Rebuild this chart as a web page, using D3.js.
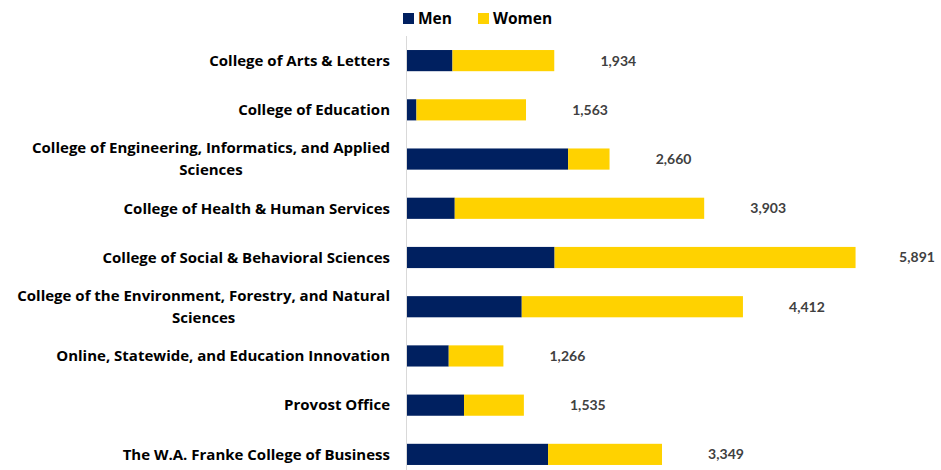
<!DOCTYPE html>
<html><head><meta charset="utf-8">
<script src="https://cdn.jsdelivr.net/npm/d3@7"></script>
<style>html,body{margin:0;padding:0;background:#fff;}svg{display:block;}</style>
</head><body>
<svg id="chart" width="941" height="470"></svg>
<script>
const categories = [
  "College of Arts & Letters",
  "College of Education",
  "College of Engineering, Informatics, and Applied Sciences",
  "College of Health & Human Services",
  "College of Social & Behavioral Sciences",
  "College of the Environment, Forestry, and Natural Sciences",
  "Online, Statewide, and Education Innovation",
  "Provost Office",
  "The W.A. Franke College of Business"
];
const categoryLines = [
  ["College of Arts & Letters"],
  ["College of Education"],
  ["College of Engineering, Informatics, and Applied", "Sciences"],
  ["College of Health & Human Services"],
  ["College of Social & Behavioral Sciences"],
  ["College of the Environment, Forestry, and Natural", "Sciences"],
  ["Online, Statewide, and Education Innovation"],
  ["Provost Office"],
  ["The W.A. Franke College of Business"]
];
const seriesNames = ["Men", "Women"];
const men   = [597, 124, 2116, 627, 1938, 1507, 548, 749, 1853];
const women = [1337, 1439, 544, 3276, 3953, 2905, 718, 786, 1496];

const colors = {Men: "#002060", Women: "#FFD200"};
const labelFont = "'Open Sans', Lato, sans-serif";
const valueFont = "Lato, 'Open Sans', sans-serif";

const W = 941;
const svg = d3.select("#chart");
const rows = categories.map((c, i) => ({cat: c, lines: categoryLines[i], Men: men[i], Women: women[i], total: men[i] + women[i]}));

const x = d3.scaleLinear().domain([0, 7000]).range([407, 940]);
const y = d3.scaleBand().domain(categories).range([36, 479]).paddingInner(0.57).paddingOuter(0.285);

const stack = d3.stack().keys(seriesNames)(rows);

// axis line
svg.append("line").attr("x1", x(0) - 0.5).attr("x2", x(0) - 0.5)
  .attr("y1", 36).attr("y2", 479).attr("stroke", "#d9d9d9").attr("stroke-width", 1);

svg.append("g").selectAll("g").data(stack).join("g")
  .attr("fill", d => colors[d.key])
  .selectAll("rect").data(d => d).join("rect")
  .attr("x", d => x(d[0]))
  .attr("width", d => x(d[1]) - x(d[0]))
  .attr("y", d => y(d.data.cat))
  .attr("height", y.bandwidth());

// value labels
svg.append("g").selectAll("text").data(rows).join("text")
  .attr("x", d => Math.min(x(d.total) + 64, W - 24))
  .attr("y", d => y(d.cat) + y.bandwidth() / 2)
  .attr("dy", "0.35em")
  .attr("text-anchor", "middle")
  .attr("font-family", valueFont).attr("font-weight", "bold").attr("font-size", 14)
  .attr("fill", "#404040")
  .text(d => d3.format(",")(d.total));

// category labels
const catG = svg.append("g");
rows.forEach(d => {
  const cy = y(d.cat) + y.bandwidth() / 2;
  const t = catG.append("text")
    .attr("font-family", labelFont).attr("font-weight", "bold").attr("font-size", 15)
    .attr("fill", "#000");
  const n = d.lines.length;
  const lh = 22;
  d.lines.forEach((ln, j) => {
    t.append("tspan").attr("y", cy + (j - (n - 1) / 2) * lh).attr("dy", "0.35em").text(ln);
  });
  const spans = t.selectAll("tspan").nodes();
  const widths = spans.map(s => s.getComputedTextLength());
  const maxW = d3.max(widths);
  const center = 390 - maxW / 2;
  spans.forEach(s => d3.select(s).attr("x", center).attr("text-anchor", "middle"));
});

// legend
const leg = svg.append("g");
const legX = [403, 478];
seriesNames.forEach((k, i) => {
  leg.append("rect").attr("x", legX[i]).attr("y", 13).attr("width", 11).attr("height", 11).attr("fill", colors[k]);
  leg.append("text").attr("x", legX[i] + 15).attr("y", 18.5).attr("dy", "0.35em")
    .attr("font-family", labelFont).attr("font-weight", "bold").attr("font-size", 15.5)
    .attr("fill", "#000").text(k);
});
</script>
</body></html>
